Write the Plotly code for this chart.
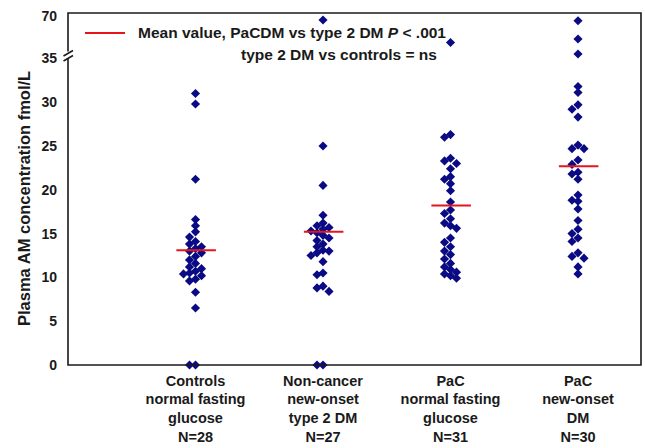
import plotly.graph_objects as go

# ---- data ----
groups = ["Controls<br>normal fasting<br>glucose<br>N=28",
          "Non-cancer<br>new-onset<br>type 2 DM<br>N=27",
          "PaC<br>normal fasting<br>glucose<br>N=31",
          "PaC<br>new-onset<br>DM<br>N=30"]

controls = [31.0, 29.8, 21.2, 16.6, 15.9, 15.2, 14.6, 14.1, 13.8, 13.5, 13.3, 13.0,
            12.8, 12.4, 12.0, 11.6, 11.2, 11.0, 10.7, 10.5, 10.4, 10.2, 9.8, 9.6,
            8.3, 6.5, 0, 0]
noncancer_dm = [66.5, 25.0, 20.5, 17.1, 16.2, 15.9, 15.7, 15.5, 15.3, 15.1, 14.8, 14.5,
                14.2, 13.8, 13.5, 13.1, 13.0, 12.8, 12.5, 11.8, 10.5, 10.3, 9.0, 8.8,
                8.4, 0, 0]
pac_nfg = [48.0, 26.3, 26.0, 23.6, 23.3, 23.0, 22.4, 21.5, 21.2, 20.7, 19.9, 18.6,
           17.7, 17.3, 16.7, 16.2, 15.9, 15.6, 14.5, 14.0, 13.5, 13.0, 12.6, 12.1,
           11.6, 11.2, 10.9, 10.6, 10.4, 10.2, 9.9]
pac_dm = [65.9, 50.9, 38.6, 31.8, 31.1, 29.7, 29.2, 28.3, 25.1, 24.7, 24.7, 23.4,
          22.9, 22.0, 21.8, 21.2, 19.4, 18.8, 18.7, 17.8, 16.5, 15.5, 15.0, 14.5,
          14.1, 12.8, 12.4, 12.2, 11.2, 10.4]
means = [13.1, 15.2, 18.2, 22.7]

series = [controls, noncancer_dm, pac_nfg, pac_dm]

lower_ticks = [0, 5, 10, 15, 20, 25, 30, 35]
upper_ticks = [70]
BREAK = 35

# ---- layout geometry ----
W, H = 645, 448
ML, MR, MT, MB = 68, 4, 13, 83
plot_w = W - ML - MR
plot_h = H - MT - MB
x_range = [0, 4.494]
px_per_x = plot_w / (x_range[1] - x_range[0])
lower_px = 306.6               # pixel height of 0..35 segment
px_per_y_low = lower_px / BREAK
upper_px = plot_h - lower_px
px_per_y_up = 42.7 / 35.0
upper_top = BREAK + upper_px / px_per_y_up
split = lower_px / plot_h


def ypix(v):
    if v <= BREAK:
        return v * px_per_y_low
    return lower_px + (v - BREAK) * px_per_y_up


def swarm(vals, d=5.6, step=6.0):
    placed, offs = [], []
    cands = [0]
    for k in range(1, 8):
        cands += [-k * step, k * step]
    for v in vals:
        y = ypix(v)
        for c in cands:
            if all((c - px) ** 2 + (y - py) ** 2 >= d * d for px, py in placed):
                break
        placed.append((c, y))
        offs.append(c / px_per_x)
    return offs


NAVY = "#0a0a84"
RED = "#e8141c"
fig = go.Figure()

for i, vals in enumerate(series):
    offs = swarm(vals)
    xc = i + 1
    lo = [(xc + o, v) for o, v in zip(offs, vals) if v <= BREAK]
    hi = [(xc + o, v) for o, v in zip(offs, vals) if v > BREAK]
    fig.add_trace(go.Scatter(x=[p[0] for p in lo], y=[p[1] for p in lo], mode="markers",
                             marker=dict(symbol="diamond", size=7, color=NAVY),
                             cliponaxis=False, showlegend=False, yaxis="y"))
    if hi:
        fig.add_trace(go.Scatter(x=[p[0] for p in hi], y=[p[1] for p in hi], mode="markers",
                                 marker=dict(symbol="diamond", size=7, color=NAVY),
                                 cliponaxis=False, showlegend=False, yaxis="y2"))
    fig.add_trace(go.Scatter(x=[xc - 0.15, xc + 0.16], y=[means[i], means[i]], mode="lines",
                             line=dict(color=RED, width=2), showlegend=False, yaxis="y"))

FONT = "Liberation Sans, Arial, sans-serif"
fig.update_layout(
    width=W, height=H,
    margin=dict(l=ML, r=MR, t=MT, b=MB),
    paper_bgcolor="white", plot_bgcolor="white",
    font=dict(family=FONT, size=14, color="#1a1a1a"),
    xaxis=dict(range=x_range, tickvals=[1, 2, 3, 4], ticktext=groups,
               showgrid=False, zeroline=False, showline=False, ticks="",
               ticklabelstandoff=5,
               tickfont=dict(family=FONT, size=14.5, weight="bold", color="#1a1a1a")),
    yaxis=dict(domain=[0, split], range=[0, BREAK], tickvals=lower_ticks,
               showgrid=False, zeroline=False, showline=False, ticks="",
               ticklabelstandoff=10,
               tickfont=dict(family=FONT, size=14, weight="bold", color="#1a1a1a")),
    yaxis2=dict(domain=[split, 1], range=[BREAK, upper_top], tickvals=upper_ticks,
                anchor="x", showgrid=False, zeroline=False, showline=False, ticks="",
                ticklabelstandoff=10,
                tickfont=dict(family=FONT, size=14, weight="bold", color="#1a1a1a")),
)

# frame
fig.add_shape(type="rect", xref="paper", yref="paper", x0=0, x1=1, y0=0, y1=1,
              line=dict(color="#1a1a1a", width=1.6), layer="above")


def pp(px, py):
    return (px - ML) / plot_w, (H - MB - py) / plot_h


# axis break glyph
bx0, by0 = pp(68, 51.5)
bx1, by1 = pp(68, 58.5)
fig.add_shape(type="line", xref="paper", yref="paper", x0=bx0, x1=bx1, y0=by0, y1=by1,
              line=dict(color="white", width=4), layer="above")
for (ax, ay, bx, by) in [(63.5, 56, 73, 50.5), (63.5, 61, 73, 55.5)]:
    x0, y0 = pp(ax, ay)
    x1, y1 = pp(bx, by)
    fig.add_shape(type="line", xref="paper", yref="paper", x0=x0, x1=x1, y0=y0, y1=y1,
                  line=dict(color="#1a1a1a", width=1.5), layer="above")

# legend (drawn)
lx0, ly = pp(85, 33)
lx1, _ = pp(125, 33)
fig.add_shape(type="line", xref="paper", yref="paper", x0=lx0, x1=lx1, y0=ly, y1=ly,
              line=dict(color=RED, width=2))
tx, ty = pp(136, 33)
fig.add_annotation(xref="paper", yref="paper", x=tx, y=ty, xanchor="left", yanchor="middle",
                   text="Mean value, PaCDM vs type 2 DM <i>P</i> < .001", showarrow=False,
                   font=dict(family=FONT, size=15.5, weight="bold", color="#1a1a1a"))
tx2, ty2 = pp(439, 55)
fig.add_annotation(xref="paper", yref="paper", x=tx2, y=ty2, xanchor="right", yanchor="middle",
                   text="type 2 DM vs controls = ns", showarrow=False,
                   font=dict(family=FONT, size=15.5, weight="bold", color="#1a1a1a"))

# y title
yx, yy = pp(24, 199)
fig.add_annotation(xref="paper", yref="paper", x=yx, y=yy, xanchor="center", yanchor="middle",
                   text="Plasma AM concentration fmol/L", textangle=-90, showarrow=False,
                   font=dict(family=FONT, size=16.5, weight="bold", color="#1a1a1a"))

fig.write_html("out.html", config={"displayModeBar": False},
               post_script="document.body.style.margin='0px';")
